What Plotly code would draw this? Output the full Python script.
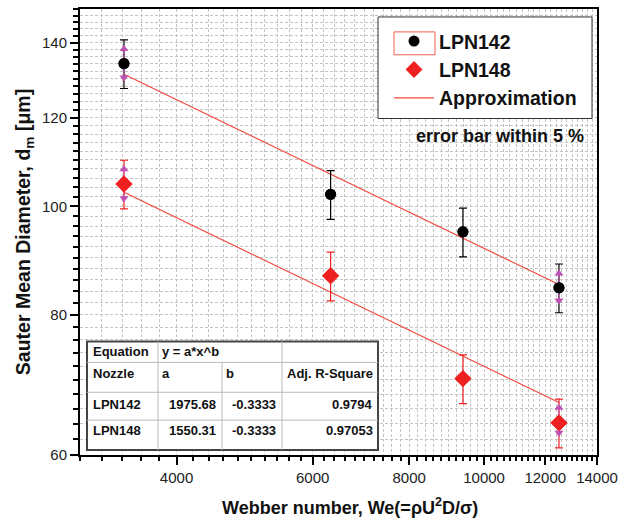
import math
import plotly.graph_objects as go

# ---------------- data ----------------
webber = [3420, 6330, 9390, 12500]
d_lpn142 = [134.1, 102.5, 94.9, 84.6]
d_lpn148 = [104.7, 86.7, 70.2, 64.1]
error_percent = 5

fit_a_lpn142 = 1975.68
fit_a_lpn148 = 1550.31
fit_b = -0.3333
adj_r2_lpn142 = "0.9794"
adj_r2_lpn148 = "0.97053"

# magenta arrow markers (upper / lower arrow heads) at first and last point
arrow_x = [3420, 12500]
arrow142_hi = [138.2, 87.1]
arrow142_lo = [130.3, 82.4]
arrow148_hi = [107.9, 66.1]
arrow148_lo = [101.7, 62.8]

x_ticks = [4000, 6000, 8000, 10000, 12000, 14000]
y_ticks = [60, 80, 100, 120, 140]
x_minor = list(range(3000, 14001, 200))
y_minor = list(range(60, 151, 2))

# ---------------- styling helpers ----------------
FONT = "Liberation Sans, Arial, sans-serif"
FIT_COLOR = "#f24a3e"
RED = "#ee2020"
MAGENTA = "#c050b4"
GRID = "#c4c4c4"

PX0, PX1, PY0, PY1 = 80, 597, 7, 455


def px(x):
    return (x - PX0) / (PX1 - PX0)


def py(y):
    return (PY1 - y) / (PY1 - PY0)


fig = go.Figure()

# fit lines
fit_x = [webber[0], webber[-1]]
fig.add_trace(go.Scatter(
    x=fit_x, y=[fit_a_lpn142 * v ** fit_b for v in fit_x], mode="lines",
    line=dict(color=FIT_COLOR, width=1.2), name="Approximation",
    legendrank=3, showlegend=True, hoverinfo="skip"))
fig.add_trace(go.Scatter(
    x=fit_x, y=[fit_a_lpn148 * v ** fit_b for v in fit_x], mode="lines",
    line=dict(color=FIT_COLOR, width=1.2), name="Approximation",
    showlegend=False, hoverinfo="skip"))

# data with error bars
fig.add_trace(go.Scatter(
    x=webber, y=d_lpn142, mode="markers", name="LPN142", legendrank=1,
    marker=dict(symbol="circle", size=11, color="black"),
    error_y=dict(type="percent", value=error_percent, color="black",
                 thickness=1.2, width=4)))
fig.add_trace(go.Scatter(
    x=webber, y=d_lpn148, mode="markers", name="LPN148", legendrank=2,
    marker=dict(symbol="diamond", size=13, color=RED),
    error_y=dict(type="percent", value=error_percent, color=RED,
                 thickness=1.2, width=4)))

# magenta arrows
for hi, lo in ((arrow142_hi, arrow142_lo), (arrow148_hi, arrow148_lo)):
    for xv, h, l in zip(arrow_x, hi, lo):
        fig.add_trace(go.Scatter(
            x=[xv, xv], y=[h, l], mode="lines+markers", showlegend=False,
            hoverinfo="skip",
            line=dict(color=MAGENTA, width=1.5, dash="2px,1px"),
            marker=dict(symbol=["triangle-up", "triangle-down"], size=8,
                        color=MAGENTA)))

# markers on top again
fig.add_trace(go.Scatter(
    x=webber, y=d_lpn142, mode="markers", showlegend=False,
    marker=dict(symbol="circle", size=11, color="black")))
fig.add_trace(go.Scatter(
    x=webber, y=d_lpn148, mode="markers", showlegend=False,
    marker=dict(symbol="diamond", size=13, color=RED)))

axis_common = dict(
    type="log", ticks="outside", ticklen=8, tickwidth=1.5, tickcolor="black",
    showline=True, linecolor="black", linewidth=2, mirror=True,
    showgrid=True, gridcolor=GRID, gridwidth=1, griddash="3px,2px",
    zeroline=False,
    tickfont=dict(family=FONT, size=15, color="#222"),
)

fig.update_xaxes(
    **axis_common,
    range=[math.log10(3000), math.log10(14000)],
    tickmode="array", tickvals=x_ticks, ticktext=[str(v) for v in x_ticks],
    minor=dict(tickmode="array", tickvals=x_minor, ticks="outside", ticklen=4,
               tickwidth=1.5, tickcolor="black", showgrid=True,
               gridcolor=GRID, gridwidth=1, griddash="3px,2px"),
)
fig.update_yaxes(
    **axis_common,
    range=[math.log10(60), math.log10(150)],
    tickmode="array", tickvals=y_ticks, ticktext=[str(v) for v in y_ticks],
    minor=dict(tickmode="array", tickvals=y_minor, ticks="outside", ticklen=5,
               tickwidth=1.5, tickcolor="black", showgrid=True,
               gridcolor=GRID, gridwidth=1, griddash="3px,2px"),
    title=dict(text="Sauter Mean Diameter, d<sub>m</sub> [μm]",
               font=dict(family=FONT, size=19.5, color="#111", weight="bold"),
               standoff=6),
)

# ---------------- table (shapes + text) ----------------
shapes = []
tx0, tx1, ty0, ty1 = 87, 378, 341, 450
shapes.append(dict(type="rect", xref="paper", yref="paper",
                   x0=px(tx0), x1=px(tx1), y0=py(ty1), y1=py(ty0),
                   fillcolor="white", line=dict(color="#444", width=2),
                   layer="above"))
for yline in (362, 392, 420):
    shapes.append(dict(type="line", xref="paper", yref="paper",
                       x0=px(tx0), x1=px(tx1), y0=py(yline), y1=py(yline),
                       line=dict(color="#bbb", width=1), layer="above"))
for xline, ytop in ((158, ty0), (222, 362), (282, ty0)):
    shapes.append(dict(type="line", xref="paper", yref="paper",
                       x0=px(xline), x1=px(xline), y0=py(ty1), y1=py(ytop),
                       line=dict(color="#bbb", width=1), layer="above"))

# legend frame (drawn as a shape behind a transparent legend)
shapes.append(dict(type="rect", xref="paper", yref="paper",
                   x0=px(378), x1=px(592), y0=py(117), y1=py(15),
                   fillcolor="white", line=dict(color="#333", width=1),
                   layer="above"))
# red selection box around first legend symbol
shapes.append(dict(type="rect", xref="paper", yref="paper",
                   x0=px(394), x1=px(435), y0=py(53), y1=py(30),
                   line=dict(color="#f06050", width=1), layer="above"))

annotations = []
TF = dict(family=FONT, size=13, color="#111", weight="bold")


def cell(text, x, y, anchor="left"):
    annotations.append(dict(text=text, x=px(x), y=py(y), xref="paper",
                            yref="paper", xanchor=anchor, yanchor="middle",
                            showarrow=False, font=TF))


cell("Equation", 91, 351)
cell("y = a*x^b", 160, 351)
cell("Nozzle", 91, 373)
cell("a", 160, 373)
cell("b", 224, 373)
cell("Adj. R-Square", 375, 373, "right")
cell("LPN142", 91, 404)
cell(f"{fit_a_lpn142:.2f}", 218, 404, "right")
cell(f"{fit_b:.4f}", 278, 404, "right")
cell(adj_r2_lpn142, 375, 404, "right")
cell("LPN148", 91, 430)
cell(f"{fit_a_lpn148:.2f}", 218, 430, "right")
cell(f"{fit_b:.4f}", 278, 430, "right")
cell(adj_r2_lpn148, 375, 430, "right")

annotations.append(dict(text="error bar within 5 %", x=px(586), y=py(135),
                        xref="paper", yref="paper", xanchor="right",
                        yanchor="middle", showarrow=False,
                        font=dict(family=FONT, size=18, color="#111",
                                  weight="bold")))

# x-axis title (placed as in the reference, slightly right of centre)
annotations.append(dict(text="Webber number, We(=ρU<sup>2</sup>D/σ)",
                        x=px(350), y=py(507), xref="paper", yref="paper",
                        xanchor="center", yanchor="middle", showarrow=False,
                        font=dict(family=FONT, size=18, color="#111",
                                  weight="bold")))

fig.update_layout(
    width=632, height=525,
    margin=dict(l=80, r=35, t=7, b=70),
    paper_bgcolor="white", plot_bgcolor="white",
    font=dict(family=FONT, color="black"),
    shapes=shapes, annotations=annotations,
    showlegend=True,
    legend=dict(x=px(389), y=py(20), xanchor="left", yanchor="top",
                bgcolor="rgba(0,0,0,0)", borderwidth=0,
                font=dict(family=FONT, size=19.5, color="#111", weight="bold"),
                itemwidth=40, tracegroupgap=0),
)

fig.write_html("out.html")
